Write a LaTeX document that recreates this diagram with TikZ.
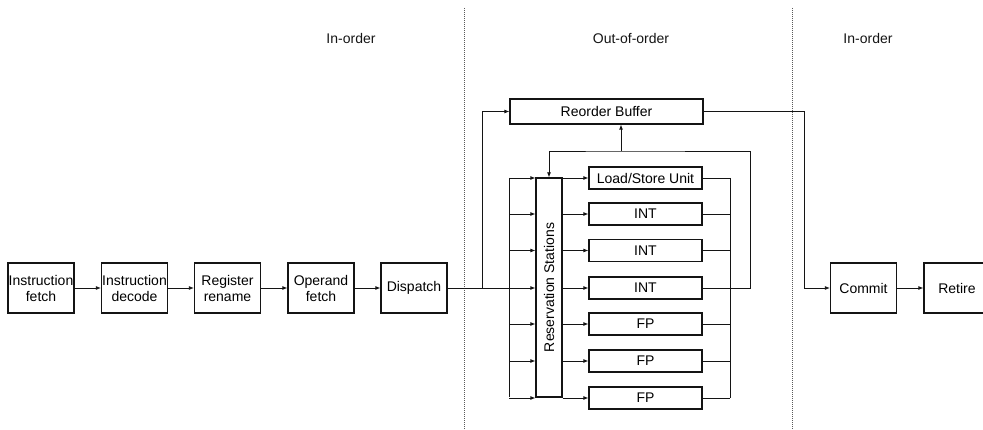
\documentclass[tikz,border=0pt]{standalone}
\usepackage{fontspec}
\setmainfont{Liberation Sans}
\usetikzlibrary{arrows.meta}
\definecolor{ink}{RGB}{20, 20, 20}
\definecolor{divider}{RGB}{90, 90, 90}
\tikzset{
  stagebox/.style={draw=ink, line width=1.3pt, inner sep=0pt, minimum width=66pt, minimum height=50pt, align=center, font=\fontsize{14}{16}\selectfont},
  unitbox/.style={draw=ink, line width=1.3pt, inner sep=0pt, minimum width=113pt, minimum height=22pt, font=\fontsize{14}{16}\selectfont},
  flow/.style={draw=ink, line width=0.8pt, -{Latex[length=5pt,width=4pt]}},
  wire/.style={draw=ink, line width=0.8pt},
  phase/.style={font=\fontsize{14}{16}\selectfont, text=ink},
}
\begin{document}
\begin{tikzpicture}[x=1pt, y=-1pt]
            \useasboundingbox (0,0) rectangle (983,430);
            % phase dividers
            \draw[divider, line width=0.8pt, dash pattern=on 1pt off 1pt] (464,8) -- (464,430);
            \draw[divider, line width=0.8pt, dash pattern=on 1pt off 1pt] (792,8) -- (792,430);
            \node[phase] (lbl1) at (351,38) {In-order};
            \node[phase] (lbl2) at (631,38) {Out-of-order};
            \node[phase] (lbl3) at (868,38) {In-order};
            % front end
            \node[stagebox] (ifetch)   at ( 41.0,288) {Instruction\\fetch};
            \node[stagebox] (idecode)  at (134.5,288) {Instruction\\decode};
            \node[stagebox] (rename)   at (227.5,288) {Register\\rename};
            \node[stagebox] (opfetch)  at (321.0,288) {Operand\\fetch};
            \node[stagebox] (dispatch) at (414.0,288) {Dispatch};
            \draw[flow] (ifetch)  -- (idecode);
            \draw[flow] (idecode) -- (rename);
            \draw[flow] (rename)  -- (opfetch);
            \draw[flow] (opfetch) -- (dispatch);
            % out-of-order core
            \node[stagebox, minimum width=193pt, minimum height=25pt] (rob) at (606.5,111.5) {Reorder Buffer};
            \node[stagebox, minimum width=26pt, minimum height=219pt] (rs) at (549,287.5) {};
            \node[rotate=90, font=\fontsize{14}{16}\selectfont] (rslbl) at (rs.center) {Reservation Stations};
            \node[unitbox] (u1) at (645.5,178) {Load/Store Unit};
            \node[unitbox] (u2) at (645.5,214) {INT};
            \node[unitbox] (u3) at (645.5,250.5) {INT};
            \node[unitbox] (u4) at (645.5,288) {INT};
            \node[unitbox] (u5) at (645.5,324) {FP};
            \node[unitbox] (u6) at (645.5,361) {FP};
            \node[unitbox] (u7) at (645.5,398) {FP};
            \coordinate (split) at (482,288);
            \coordinate (busin) at (509,288);
            \coordinate (busout) at (730,288);
            \coordinate (fb) at (621,151);
            \draw[wire] (dispatch) -- (busin);
            \draw[flow] (split) |- (rob.west);
            \draw[wire] (509,178) -- (509,397);
            \draw[wire] (730,178) -- (730,398);
            \foreach \u in {u1,u2,u3,u4,u5,u6,u7} {
              \draw[flow] (busin |- \u.west) -- (rs.west |- \u.west);
              \draw[flow] (rs.east |- \u.west) -- (\u.west);
              \draw[wire] (\u.east) -- (busout |- \u.east);
            }
            % results back to stations and buffer
            \draw[flow] (busout) -- (750,288) |- (fb) -| (rs.north);
            \draw[flow] (fb) -- (fb |- rob.south);
            % back end
            \node[stagebox] (commit) at (863.5,288) {Commit};
            \node[stagebox] (retire) at (957.0,288) {Retire};
            \draw[flow] (rob.east) -- (804,111.5) |- (commit.west);
            \draw[flow] (commit) -- (retire);
            \end{tikzpicture}
\end{document}
